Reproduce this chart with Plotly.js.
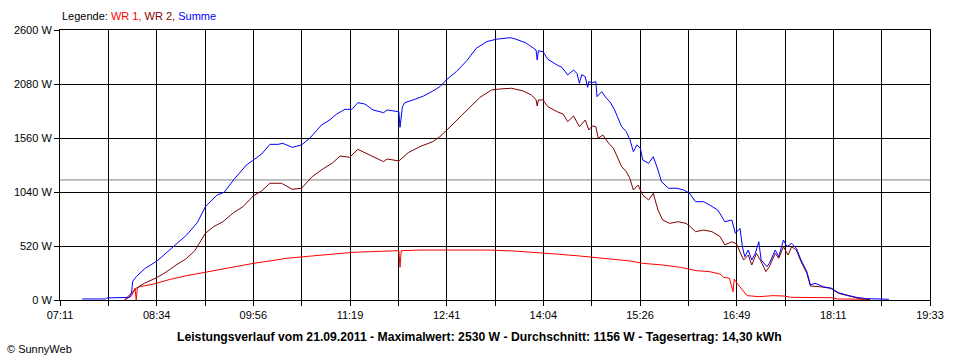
<!DOCTYPE html>
<html>
<head>
<meta charset="utf-8">
<script src="https://cdn.plot.ly/plotly-3.0.1.min.js"></script>
<style>
  html, body { margin: 0; padding: 0; background: #fff; }
  #chart { width: 960px; height: 360px; }
</style>
</head>
<body>
<div id="chart"></div>
<script>
// ---------- data ----------
const xTickLabels = ['07:11','08:34','09:56','11:19','12:41','14:04','15:26','16:49','18:11','19:33'];
const yTickValues = [0, 520, 1040, 1560, 2080, 2600];
const yTickLabels = ['0 W','520 W','1040 W','1560 W','2080 W','2600 W'];

const seriesNames = ['WR 1', 'WR 2', 'Summe'];

const wr1Time = ['08:06','08:12','08:15','08:16','08:17','08:19','08:31','08:45','08:59','09:13',
  '09:28','09:42','09:56','10:10','10:24','10:39','10:53','11:07','11:21','11:35',
  '11:51','12:00','12:01','12:02','12:18','12:46','13:16','13:38','14:03','14:17',
  '14:34','14:49','15:03','15:17','15:28','15:45','16:00','16:07','16:14','16:25',
  '16:34','16:37','16:42','16:45','16:46','16:48','16:51','16:57','17:07','17:19',
  '17:29','17:34','18:10','18:14','18:39','18:42'];
const wr1Power = [0,40,112,0,120,128,154,199,234,263,
  295,327,353,376,401,417,433,449,459,465,
  475,475,315,475,481,483,481,472,456,440,
  424,408,392,376,353,337,315,295,282,273,
  250,218,209,80,200,167,128,42,32,42,
  38,26,22,10,7,0];

const wr2Time = ['08:06','08:12','08:16','08:23','08:34','08:42','08:50','08:58','09:06','09:15',
  '09:22','09:30','09:39','09:47','09:56','10:03','10:10','10:20','10:29','10:37',
  '10:46','10:56','11:03','11:10','11:18','11:25','11:33','11:40','11:47','11:50',
  '12:00','12:08','12:18','12:29','12:35','12:41','12:51','13:01','13:09','13:19',
  '13:26','13:36','13:46','13:53','13:57','13:58','13:59','14:03','14:07','14:15',
  '14:20','14:24','14:29','14:34','14:39','14:42','14:45','14:48','14:50','14:54',
  '14:59','15:03','15:06','15:10','15:14','15:17','15:20','15:24','15:28','15:33',
  '15:37','15:41','15:45','15:51','15:58','16:05','16:08','16:13','16:20','16:27',
  '16:34','16:38','16:44','16:48','16:54','16:58','17:01','17:05','17:09','17:13',
  '17:16','17:21','17:24','17:28','17:32','17:35','17:39','17:43','17:48','17:51',
  '17:59','18:08','18:15','18:25','18:33','18:39','18:42'];
const wr2Power = [0,67,112,161,218,273,337,392,475,642,
  706,754,841,898,1004,1050,1124,1124,1066,1076,
  1187,1268,1316,1387,1374,1451,1406,1364,1332,1358,
  1339,1419,1477,1525,1573,1637,1750,1862,1950,2022,
  2032,2039,2013,1974,1930,1868,1926,1926,1862,1813,
  1791,1717,1772,1669,1733,1637,1676,1669,1557,1589,
  1509,1461,1380,1284,1236,1172,1059,1107,1011,963,
  1027,867,770,738,754,738,712,658,674,658,
  610,530,561,539,385,433,337,449,369,273,
  321,449,401,513,433,513,481,369,257,135,
  128,113,64,32,13,7,0];

const sumTime = ['07:30','07:50','07:51','08:10','08:12','08:13','08:16','08:23','08:34','08:48',
  '08:59','09:08','09:15','09:25','09:31','09:39','09:50','09:56','10:03','10:10',
  '10:17','10:21','10:29','10:37','10:44','10:54','11:01','11:07','11:14','11:20',
  '11:25','11:31','11:38','11:47','11:50','12:00','12:01','12:03','12:05','12:12',
  '12:21','12:29','12:35','12:41','12:49','12:58','13:06','13:15','13:23','13:35',
  '13:40','13:48','13:53','13:57','13:58','13:59','14:03','14:07','14:15','14:19',
  '14:24','14:29','14:32','14:34','14:36','14:39','14:41','14:42','14:45','14:48',
  '14:49','14:53','14:57','15:00','15:04','15:07','15:10','15:14','15:17','15:20',
  '15:23','15:26','15:28','15:33','15:37','15:41','15:44','15:50','15:57','16:03',
  '16:08','16:13','16:20','16:25','16:32','16:38','16:44','16:47','16:51','16:53',
  '16:55','16:58','17:01','17:04','17:07','17:09','17:14','17:16','17:21','17:24',
  '17:28','17:31','17:35','17:39','17:43','17:48','17:51','17:55','18:02','18:09',
  '18:15','18:22','18:30','18:39','18:58'];
const sumPower = [10,10,20,25,67,180,224,300,378,513,
  626,744,898,1011,1037,1156,1300,1348,1406,1499,
  1499,1509,1470,1493,1557,1685,1733,1791,1836,1836,
  1900,1887,1830,1804,1830,1813,1663,1860,1900,1926,
  1964,2013,2054,2125,2199,2305,2424,2488,2511,2526,
  2511,2478,2440,2408,2311,2400,2391,2318,2263,2241,
  2167,2215,2180,2087,2170,2150,2048,2103,2093,2103,
  1958,2006,1942,1910,1830,1740,1669,1621,1547,1428,
  1493,1461,1348,1316,1380,1252,1139,1076,1076,1059,
  1027,947,947,915,867,754,770,642,690,513,
  417,481,385,449,561,385,321,353,481,417,
  578,513,546,498,385,273,144,161,128,113,
  70,48,26,13,7];

const averagePower = 1156;
const legendPrefix = 'Legende: ';
const titleText = 'Leistungsverlauf vom 21.09.2011 - Maximalwert: 2530 W - Durchschnitt: 1156 W - Tagesertrag: 14,30 kWh';
const creditText = '\u00A9 SunnyWeb';

// ---------- helpers ----------
function toMin(s) { const p = s.split(':'); return (+p[0]) * 60 + (+p[1]); }

const colors = ['#ff0000', '#800000', '#0000ff'];
const xMin = toMin(xTickLabels[0]);
const xMax = toMin(xTickLabels[xTickLabels.length - 1]);
const nTicks = (xTickLabels.length - 1) * 2;
const xTickVals = [], xTickText = [];
for (let i = 0; i <= nTicks; i++) {
  xTickVals.push(xMin + (xMax - xMin) * i / nTicks);
  xTickText.push(i % 2 === 0 ? xTickLabels[i / 2] : '');
}

const FONT = 'Liberation Sans, Arial, sans-serif';

const traces = [
  {x: wr1Time.map(toMin), y: wr1Power, name: seriesNames[0], color: colors[0]},
  {x: wr2Time.map(toMin), y: wr2Power, name: seriesNames[1], color: colors[1]},
  {x: sumTime.map(toMin), y: sumPower, name: seriesNames[2], color: colors[2]}
].map(s => ({
  type: 'scatter', mode: 'lines', x: s.x, y: s.y, name: s.name,
  line: {color: s.color, width: 1}, hoverinfo: 'skip', showlegend: false
}));

const legendHtml = legendPrefix + seriesNames.map((n, i) =>
  '<span style="color:' + colors[i] + '">' + n + (i < seriesNames.length - 1 ? ',' : '') + '</span>'
).join(' ');

const layout = {
  width: 960, height: 360,
  margin: {l: 60, r: 30, t: 30, b: 60, pad: 0},
  paper_bgcolor: '#ffffff', plot_bgcolor: '#ffffff',
  font: {family: FONT, size: 11, color: '#000'},
  showlegend: false,
  xaxis: {
    range: [xMin, xMax], tickmode: 'array', tickvals: xTickVals, ticktext: xTickText,
    showgrid: true, gridcolor: '#000', gridwidth: 1, zeroline: false,
    showline: true, linecolor: '#000', linewidth: 1, mirror: true,
    ticks: 'outside', ticklen: 5, tickcolor: '#000', tickwidth: 1,
    tickfont: {family: FONT, size: 11, color: '#000'}, fixedrange: true
  },
  yaxis: {
    range: [0, 2600], tickmode: 'array', tickvals: yTickValues, ticktext: yTickLabels,
    showgrid: true, gridcolor: '#000', gridwidth: 1, zeroline: false,
    showline: true, linecolor: '#000', linewidth: 1, mirror: true,
    ticks: 'outside', ticklen: 5, tickcolor: '#000', tickwidth: 1,
    tickfont: {family: FONT, size: 11, color: '#000'}, fixedrange: true
  },
  shapes: [{
    type: 'line', xref: 'paper', yref: 'y', x0: 0, x1: 1, y0: averagePower, y1: averagePower,
    line: {color: '#808080', width: 1}, layer: 'below'
  }],
  annotations: [
    {text: legendHtml, xref: 'paper', yref: 'paper', x: 0, y: 1.052, xanchor: 'left', yanchor: 'middle',
     showarrow: false, font: {family: FONT, size: 11, color: '#000'}},
    {text: '<b>' + titleText + '</b>', xref: 'paper', yref: 'paper', x: 0.482, y: -0.136,
     xanchor: 'center', yanchor: 'middle', showarrow: false, font: {family: FONT, size: 12.2, color: '#000'}},
    {text: creditText, xref: 'paper', yref: 'paper', x: -0.0632, y: -0.1815, xanchor: 'left', yanchor: 'middle',
     showarrow: false, font: {family: FONT, size: 11, color: '#000'}}
  ]
};

Plotly.newPlot('chart', traces, layout, {staticPlot: true, displayModeBar: false});
</script>
</body>
</html>
